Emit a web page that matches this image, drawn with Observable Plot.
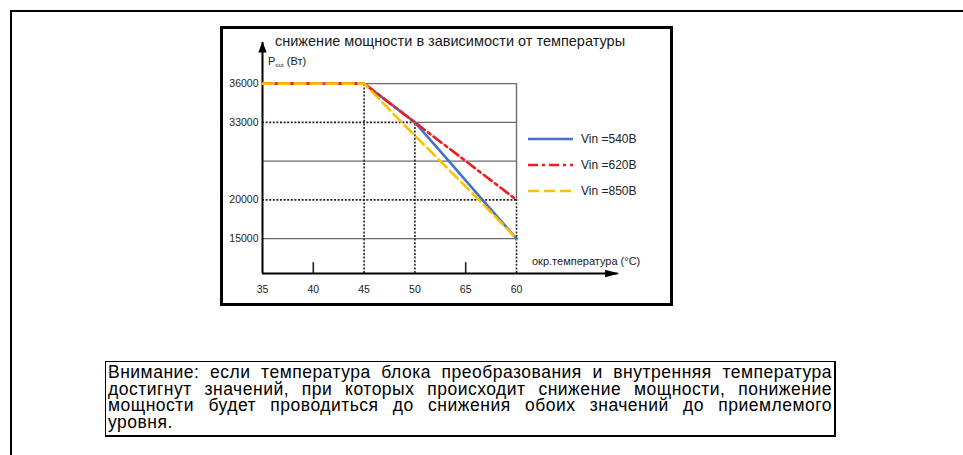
<!DOCTYPE html>
<html><head><meta charset="utf-8">
<script src="https://cdn.jsdelivr.net/npm/d3@7"></script>
<script src="https://cdn.jsdelivr.net/npm/@observablehq/plot@0.6"></script>
<style>
html,body{margin:0;padding:0;background:#fff;width:963px;height:455px;overflow:hidden;font-family:"Liberation Sans",Arial,sans-serif;color:#000}
#frame{position:absolute;left:10px;top:10px;width:1000px;height:500px;border-left:2px solid #000;border-top:2px solid #000}
#box{position:absolute;left:220px;top:26px;width:447px;height:274px;border:3px solid #000;background:#fff}
#chart{position:absolute;left:223px;top:29px;width:447px;height:274px}
.lbl{position:absolute;white-space:nowrap;line-height:1}
#title{left:275px;top:34px;font-size:14.5px;color:#1a1a1a}
#pout{left:268px;top:56px;font-size:11px;color:#222}
#pout sub{font-size:6px;vertical-align:-2px}
#xtitle{left:532px;top:256px;font-size:11px;color:#222}
#legend{position:absolute;left:528px;top:130px}
.leg{position:absolute;left:0;white-space:nowrap;font-size:12px;line-height:1;color:#222}
.leg svg{position:absolute;left:0;top:0}
.leg span{position:absolute;left:53px;top:3px}
#note{position:absolute;left:105px;top:361px;width:731px;height:76px;border:1.5px solid #000;border-right-width:2px;border-bottom-width:2px;font-family:"Liberation Sans",Arial,sans-serif;font-size:17.5px;letter-spacing:0.5px;line-height:16.7px;padding:2px 2px 0 2px;box-sizing:border-box;color:#000}
#note div{text-align:justify;text-align-last:justify;white-space:nowrap}
#note div.last{text-align:left;text-align-last:left}
</style></head>
<body>
<div id="frame"></div>
<div id="box"></div>
<div id="chart"></div>
<div class="lbl" id="title">снижение мощности в зависимости от температуры</div>
<div class="lbl" id="pout">P<sub>out</sub> (Вт)</div>
<div class="lbl" id="xtitle">окр.температура (°C)</div>
<div id="legend"></div>
<div id="note"></div>
<script>
// ---- data ----
const xTicks = [35, 40, 45, 50, 55, 60];
const xTickLabels = ["35", "40", "45", "50", "65", "60"];
const yTicks = [36000, 33000, 20000, 15000];
const yTickLabels = ["36000", "33000", "20000", "15000"];
const yMidLine = 26500;               // unlabeled grid level
const yBase = 10000, yTop = 40000;     // axis origin / arrow end
const xEnd = 70;                       // x-axis arrow end

// the power axis is drawn with evenly spaced grid levels
const yLevelValues = [yBase, 15000, 20000, yMidLine, 33000, 36000, yTop];
const yLevelIndex = [-0.9, 0, 1, 2, 3, 4, 5.06];

const seriesNames = ["Vin =540B", "Vin =620B", "Vin =850B"];
const temp540 = [35, 45, 50, 53.35, 56.65, 60];
const power540 = [36000, 36000, 33000, 26500, 20000, 15000];
const temp620 = [35, 45, 50, 55, 60];
const power620 = [36000, 36000, 33000, 26500, 20000];
const temp850 = [35, 45, 48.7, 52.5, 56.3, 60];
const power850 = [36000, 36000, 33000, 26500, 20000, 15000];

const noteLines = [
  "Внимание: если температура блока преобразования и внутренняя температура",
  "достигнут значений, при которых происходит снижение мощности, понижение",
  "мощности будет проводиться до снижения обоих значений до приемлемого",
  "уровня."
];

// ---- styles ----
const colors = ["#4472c4", "#ee1c25", "#ffc000"];
const dashes = [null, "10 4 3 4", "11 5"];
const gridGray = "#6b6b6b";
const dotted = "2 1.6";

const levelOf = d3.scaleLinear().domain(yLevelValues).range(yLevelIndex);

const toRows = (xs, ys) => xs.map((x, i) => ({x, y: ys[i]}));
const s540 = toRows(temp540, power540);
const s620 = toRows(temp620, power620);
const s850 = toRows(temp850, power850);

// grid segments (value-based)
const hSolid = [
  {y: 36000, x1: 35, x2: 60},
  {y: yMidLine, x1: 35, x2: 60},
  {y: 15000, x1: 35, x2: 60},
  {y: 33000, x1: 50, x2: 60}
];
const hDotted = [
  {y: 33000, x1: 35, x2: 50},
  {y: 20000, x1: 35, x2: 60}
];
const vDotted = [
  {x: 45, y1: yBase, y2: 36000},
  {x: 50, y1: yBase, y2: 33000},
  {x: 60, y1: yBase, y2: 20000}
];
const vSolid = [{x: 60, y1: 20000, y2: 36000}];
const shortTicks = [40, 55];

const upArrow = {draw(c){ c.moveTo(0, -1); c.lineTo(4.2, 10); c.lineTo(-4.2, 10); c.closePath(); }};
const rightArrow = {draw(c){ c.moveTo(1, 0); c.lineTo(-13, -3.8); c.lineTo(-13, 3.8); c.closePath(); }};

const chart = Plot.plot({
  width: 447, height: 274, margin: 0,
  x: {domain: [35, 60], range: [39, 293], axis: null},
  y: {transform: levelOf, domain: [yLevelIndex[0], yLevelIndex[yLevelIndex.length - 1]], range: [244, 13], axis: null},
  style: {background: "transparent", fontFamily: "'Liberation Sans', Arial, sans-serif", fontSize: "10.5px", overflow: "visible", color: "#222"},
  marks: [
    Plot.ruleY(hSolid, {y: "y", x1: "x1", x2: "x2", stroke: gridGray, strokeWidth: 1.4}),
    Plot.ruleX(vSolid, {x: "x", y1: "y1", y2: "y2", stroke: gridGray, strokeWidth: 1.4}),
    Plot.ruleY(hDotted, {y: "y", x1: "x1", x2: "x2", stroke: "#222", strokeWidth: 1.6, strokeDasharray: dotted}),
    Plot.ruleX(vDotted, {x: "x", y1: "y1", y2: "y2", stroke: "#222", strokeWidth: 1.6, strokeDasharray: dotted}),
    Plot.ruleX(shortTicks, {x: d => d, y1: 15000, y2: yBase, insetTop: 24, stroke: "#222", strokeWidth: 1.6}),
    // axes
    Plot.ruleX([35], {y1: yBase, y2: yTop, stroke: "#000", strokeWidth: 2}),
    Plot.ruleY([yBase], {x1: 35, x2: xEnd, stroke: "#000", strokeWidth: 2}),
    Plot.dot([{x: 35, y: yTop}], {x: "x", y: "y", symbol: upArrow, fill: "#000", stroke: null}),
    Plot.dot([{x: xEnd, y: yBase}], {x: "x", y: "y", symbol: rightArrow, fill: "#000", stroke: null}),
    // series
    Plot.line(s540, {x: "x", y: "y", stroke: colors[0], strokeWidth: 2.6, strokeLinejoin: "miter"}),
    Plot.line(s620, {x: "x", y: "y", stroke: colors[1], strokeWidth: 2.6, strokeDasharray: dashes[1]}),
    Plot.line(s850, {x: "x", y: "y", stroke: colors[2], strokeWidth: 2.6, strokeDasharray: dashes[2]}),
    // tick labels
    Plot.text(yTicks, {x: 35, y: d => d, text: (d, i) => yTickLabels[i], textAnchor: "end", dx: -4, fill: "#222"}),
    Plot.text(xTicks, {x: d => d, y: yBase, text: (d, i) => xTickLabels[i], dy: 16, fill: "#222"})
  ]
});
document.getElementById("chart").appendChild(chart);

// legend
const legend = document.getElementById("legend");
const legendY = [0, 26, 52];
seriesNames.forEach((name, i) => {
  const row = document.createElement("div");
  row.className = "leg";
  row.style.top = legendY[i] + "px";
  row.innerHTML = `<svg width="46" height="18"><line x1="0" x2="45" y1="9" y2="9" stroke="${colors[i]}" stroke-width="2.6" ${dashes[i] ? `stroke-dasharray="${dashes[i]}"` : ""}/></svg><span>${name}</span>`;
  legend.appendChild(row);
});

// note
const note = document.getElementById("note");
noteLines.forEach((t, i) => {
  const d = document.createElement("div");
  d.textContent = t;
  if (i === noteLines.length - 1) d.className = "last";
  note.appendChild(d);
});
</script>
</body></html>
